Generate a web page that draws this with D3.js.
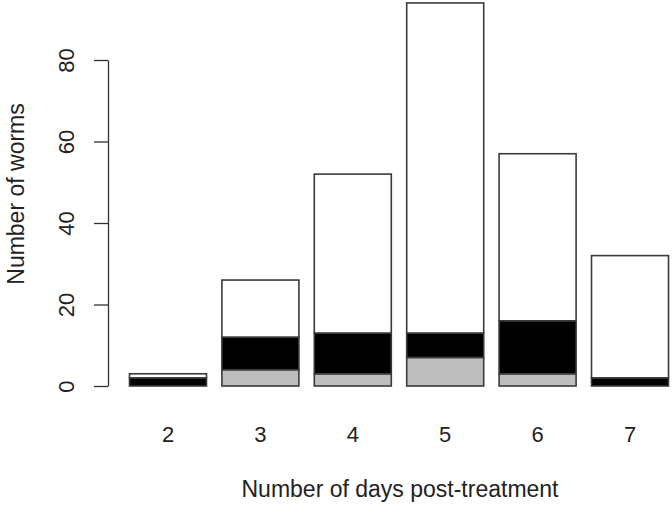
<!DOCTYPE html>
<html>
<head>
<meta charset="utf-8">
<script src="https://cdn.jsdelivr.net/npm/d3@7"></script>
<style>
  body { margin: 0; background: #fff; overflow: hidden; }
  text { font-family: "Liberation Sans", Arial, sans-serif; fill: #222; }
</style>
</head>
<body>
<script>
// the data - days post-treatment and stacked worm counts (bottom to top)
const days = ["2", "3", "4", "5", "6", "7"];
const greyCounts = [0, 4, 3, 7, 3, 0];
const blackCounts = [2, 8, 10, 6, 13, 2];
const whiteCounts = [1, 14, 39, 81, 41, 30];
const yTicks = [0, 20, 40, 60, 80];
const seriesKeys = ["grey", "black", "white"];
const seriesFill = {grey: "#bebebe", black: "#000000", white: "#ffffff"};

const width = 672, height = 505;

const svg = d3.select("body")
    .append("svg")
    .attr("width", width)
    .attr("height", height);

// table for the stack layout
const rows = days.map((d, i) => ({
    day: d,
    grey: greyCounts[i],
    black: blackCounts[i],
    white: whiteCounts[i]
}));

const stacked = d3.stack().keys(seriesKeys)(rows);

const x = d3.scaleBand()
    .domain(days)
    .range([129.5, 668.5])
    .paddingInner(0.2 / 1.2)
    .paddingOuter(0);

const y = d3.scaleLinear()
    .domain([0, 80])
    .range([386, 60]);

// bars
svg.append("g")
    .selectAll("g")
    .data(stacked)
    .join("g")
    .attr("fill", s => seriesFill[s.key])
    .selectAll("rect")
    .data(s => s)
    .join("rect")
    .attr("x", d => x(d.data.day))
    .attr("width", x.bandwidth())
    .attr("y", d => y(d[1]))
    .attr("height", d => y(d[0]) - y(d[1]))
    .attr("stroke", "#3a3a3a")
    .attr("stroke-width", 1.6);

// y axis
const yAxis = svg.append("g")
    .attr("transform", "translate(108,0)")
    .call(d3.axisLeft(y).tickValues(yTicks).tickSize(14).tickSizeOuter(0));

yAxis.select(".domain").attr("stroke", "#333").attr("stroke-width", 1.3);
yAxis.selectAll(".tick line").attr("stroke", "#333").attr("stroke-width", 1.3);
yAxis.selectAll(".tick text")
    .attr("font-size", 22)
    .attr("font-family", "Liberation Sans, Arial, sans-serif")
    .attr("fill", "#222")
    .attr("x", null)
    .attr("dy", null)
    .attr("text-anchor", "middle")
    .attr("transform", "translate(-34,0) rotate(-90)");

// x tick labels (no axis line, like R barplot)
svg.append("g")
    .selectAll("text")
    .data(days)
    .join("text")
    .attr("x", d => x(d) + x.bandwidth() / 2)
    .attr("y", 442)
    .attr("text-anchor", "middle")
    .attr("font-size", 22)
    .text(d => d);

// axis titles
svg.append("text")
    .attr("x", 400)
    .attr("y", 497)
    .attr("text-anchor", "middle")
    .attr("font-size", 23)
    .text("Number of days post-treatment");

svg.append("text")
    .attr("transform", "translate(24,194) rotate(-90)")
    .attr("text-anchor", "middle")
    .attr("font-size", 23)
    .text("Number of worms");
</script>
</body>
</html>
